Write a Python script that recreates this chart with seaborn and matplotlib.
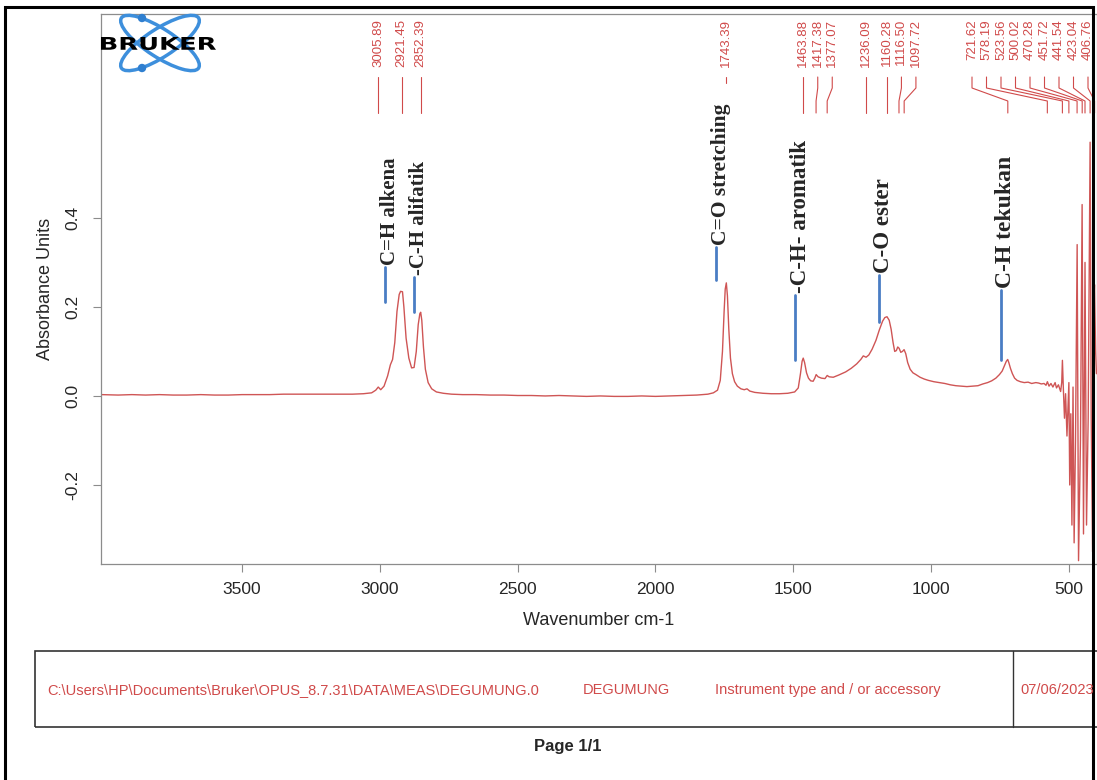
import numpy as np
import pandas as pd
import seaborn as sns
import matplotlib.pyplot as plt
from matplotlib.patches import Rectangle, Ellipse, Circle, PathPatch
from matplotlib.lines import Line2D
from matplotlib.textpath import TextPath
from matplotlib.font_manager import FontProperties
from matplotlib.transforms import Affine2D, blended_transform_factory, offset_copy

W, H = 1097, 780

# FTIR trace (cm-1, absorbance units)
wavenumber = [
    4010, 3950, 3900, 3850, 3800, 3750, 3700, 3650, 3600, 3550, 3500, 3450,
    3400, 3350, 3300, 3250, 3200, 3150, 3100, 3060, 3030, 3015, 3006, 2997,
    2985, 2972, 2962, 2954, 2946, 2938, 2930, 2925, 2918, 2913, 2905, 2895,
    2885, 2876, 2868, 2861, 2855, 2852, 2848, 2842, 2835, 2825, 2812, 2795,
    2770, 2740, 2700, 2650, 2600, 2550, 2500, 2450, 2400, 2350, 2300, 2250,
    2200, 2150, 2100, 2050, 2000, 1950, 1900, 1850, 1810, 1790, 1775, 1765,
    1757, 1751, 1747, 1743, 1739, 1734, 1728, 1721, 1713, 1703, 1690, 1678,
    1668, 1658, 1640, 1610, 1580, 1550, 1520, 1495, 1482, 1474, 1468, 1464,
    1459, 1452, 1445, 1437, 1428, 1422, 1417, 1410, 1398, 1385, 1377, 1370,
    1355, 1335, 1310, 1290, 1270, 1255, 1246, 1236, 1226, 1214, 1200, 1188,
    1176, 1168, 1160, 1152, 1145, 1138, 1132, 1126, 1121, 1116, 1110, 1104,
    1098, 1092, 1085, 1076, 1066, 1055, 1040, 1025, 1010, 990, 970, 950,
    930, 910, 890, 870, 850, 830, 812, 795, 780, 765, 752, 742,
    734, 727, 722, 718, 712, 705, 697, 688, 676, 662, 648, 635,
    620, 610, 600, 590, 583, 578, 572, 565, 558, 550, 545, 538,
    530, 526, 523.5, 520, 516, 512, 507, 503, 500, 497, 493, 489,
    485, 481, 476, 470, 465, 458, 452, 447, 441.5, 436, 430, 423,
    419, 414, 410, 407, 403, 400,
]
absorbance = [
    0.003, 0.002, 0.003, 0.002, 0.003, 0.002, 0.002, 0.003, 0.002, 0.002, 0.003, 0.003,
    0.003, 0.004, 0.004, 0.004, 0.004, 0.004, 0.004, 0.005, 0.007, 0.013, 0.020, 0.014,
    0.022, 0.045, 0.070, 0.082, 0.120, 0.190, 0.228, 0.235, 0.234, 0.200, 0.130, 0.085,
    0.063, 0.064, 0.100, 0.160, 0.185, 0.188, 0.170, 0.110, 0.060, 0.030, 0.016, 0.009,
    0.006, 0.004, 0.003, 0.003, 0.002, 0.002, 0.001, 0.001, 0.000, 0.001, 0.000, -0.001,
    0.000, -0.001, -0.001, 0.000, -0.001, 0.000, 0.001, 0.002, 0.004, 0.007, 0.013, 0.035,
    0.100, 0.190, 0.240, 0.254, 0.225, 0.150, 0.085, 0.050, 0.032, 0.022, 0.016, 0.014,
    0.016, 0.011, 0.008, 0.006, 0.005, 0.005, 0.006, 0.009, 0.018, 0.050, 0.078, 0.085,
    0.075, 0.052, 0.040, 0.034, 0.033, 0.040, 0.048, 0.043, 0.040, 0.039, 0.046, 0.043,
    0.042, 0.047, 0.054, 0.062, 0.072, 0.082, 0.090, 0.087, 0.092, 0.105, 0.125, 0.148,
    0.168, 0.176, 0.178, 0.170, 0.150, 0.120, 0.100, 0.102, 0.110, 0.107, 0.098, 0.100,
    0.104, 0.095, 0.075, 0.060, 0.052, 0.048, 0.042, 0.038, 0.035, 0.032, 0.030, 0.028,
    0.025, 0.023, 0.022, 0.021, 0.022, 0.023, 0.027, 0.030, 0.034, 0.040, 0.048, 0.056,
    0.068, 0.078, 0.082, 0.075, 0.062, 0.050, 0.040, 0.035, 0.032, 0.030, 0.031, 0.028,
    0.030, 0.029, 0.027, 0.028, 0.024, 0.032, 0.022, 0.028, 0.020, 0.030, 0.018, 0.025,
    0.010, 0.030, 0.080, 0.015, -0.050, 0.005, -0.090, -0.020, 0.030, -0.200, -0.040, -0.290,
    0.020, -0.330, -0.100, 0.340, -0.370, -0.100, 0.430, -0.310, 0.300, -0.290, -0.050, 0.570,
    -0.050, -0.350, 0.200, 0.250, 0.100, 0.050,
]

# picked peaks printed along the top
peak_wn = [3005.89, 2921.45, 2852.39, 1743.39, 1463.88, 1417.38, 1377.07,
           1236.09, 1160.28, 1116.50, 1097.72, 721.62, 578.19, 523.56,
           500.02, 470.28, 451.72, 441.54, 423.04, 406.76]

# hand-written band assignments
band_labels = ['C=H alkena', '-C-H alifatik', 'C=O stretching',
               '-C-H- aromatik', 'C-O ester', 'C-H tekukan']
band_wn = [2981, 2876, 1779, 1492, 1190, 747]

footer_texts = [r'C:\Users\HP\Documents\Bruker\OPUS_8.7.31\DATA\MEAS\DEGUMUNG.0',
                'DEGUMUNG', 'Instrument type and / or accessory', '07/06/2023']

# layout (pixels of the 1097x780 page)
band_line_y = [(0.211, 0.290), (0.189, 0.267), (0.261, 0.335),
               (0.081, 0.227), (0.166, 0.272), (0.081, 0.238)]
band_fs = [15, 15, 15.5, 16.5, 16.5, 17]
footer_x = [47, 583, 715, 1020]

RED = '#d04a4a'
LINE_RED = '#cf5555'
BLUE = '#4a7dc4'
GREY = '#8c8c8c'


def fx(px):
    return px / W


def fy(py):
    return 1 - py / H


sns.set_style('white')
plt.rcParams['font.family'] = ['Liberation Sans', 'DejaVu Sans']

fig = plt.figure(figsize=(W / 100, H / 100), dpi=100)
ax_top, ax_bot, ax_left, ax_right = 14, 564, 101, 1097
ax = fig.add_axes([fx(ax_left), fy(ax_bot), fx(ax_right - ax_left),
                   (ax_bot - ax_top) / H])

df = pd.DataFrame({'wavenumber': wavenumber, 'absorbance': absorbance})
sns.lineplot(data=df, x='wavenumber', y='absorbance', ax=ax, color=LINE_RED,
             linewidth=1.0, sort=False, estimator=None)
ax.set_xlim(4012, 398)
ax.set_ylim(-0.3775, 0.858)

for s in ax.spines.values():
    s.set_color(GREY)
    s.set_linewidth(0.9)
ax.set_xticks([3500, 3000, 2500, 2000, 1500, 1000, 500])
ax.set_yticks([-0.2, 0.0, 0.2, 0.4])
ax.set_yticklabels([f'{v:.1f}' for v in [-0.2, 0.0, 0.2, 0.4]])
ax.tick_params(direction='out', length=6, width=0.8, color=GREY,
               labelsize=12.5, bottom=True, left=True)
ax.tick_params(axis='x', pad=7)
ax.tick_params(axis='y', pad=9, labelrotation=90)
plt.setp(ax.get_yticklabels(), va='center')
ax.set_xlabel('Wavenumber cm-1', fontsize=13, labelpad=11)
ax.set_ylabel('Absorbance Units', fontsize=13, labelpad=8)

# peak labels with leader lines, spread so they don't collide
frac = lambda py: (ax_bot - py) / (ax_bot - ax_top)
blend = blended_transform_factory(ax.transData, ax.transAxes)
xs = [ax.transData.transform((w, 0))[0] for w in peak_wn]
gap = 14.5
lab = list(xs)
for i in range(1, len(lab)):
    lab[i] = max(xs[i], lab[i - 1] + gap)
lab[-1] = min(lab[-1], 1088)
for i in range(len(lab) - 2, -1, -1):
    lab[i] = min(lab[i], lab[i + 1] - gap)
inv = ax.transData.inverted()
for w, lx in zip(peak_wn, lab):
    lw_ = inv.transform((lx, 0))[0]
    ax.text(lw_, frac(19), f'{w:.2f}', rotation=90, ha='center', va='top',
            fontsize=9.5, color=RED, transform=blend)
    if w == 1743.39:
        xsL, ysL = [lw_, lw_], [frac(77), frac(83)]
    else:
        xsL = [lw_, lw_, w, w]
        ysL = [frac(77), frac(88), frac(101), frac(113)]
    ax.plot(xsL, ysL, color=RED, lw=0.8, transform=blend)

# band assignments
txt_off = offset_copy(ax.transData, fig=fig, x=5, y=0, units='dots')
for lbl, w, (y0, y1), fs in zip(band_labels, band_wn, band_line_y, band_fs):
    ax.plot([w, w], [y0, y1], color=BLUE, lw=2)
    ax.text(w, y1 + 0.004, lbl, rotation=90, ha='center', va='bottom',
            fontsize=fs, fontweight='bold', family=['Liberation Serif'],
            transform=txt_off)

# Bruker logo
lg = fig.add_axes([fx(95), fy(80), fx(130), 72 / H])
lg.set_xlim(95, 225)
lg.set_ylim(80, 8)
lg.axis('off')
for ang in (33, -33):
    lg.add_patch(Ellipse((160, 43), 92, 28, angle=ang, fill=False,
                         ec='#3d8fdc', lw=2.5))
for cy in (18, 68):
    lg.add_patch(Circle((142, cy), 3.5, color='#2f7fd0'))
tp = TextPath((0, 0), 'BRUKER', size=10,
              prop=FontProperties(family='DejaVu Sans', weight='bold'))
bb = tp.get_extents()
tr = Affine2D().translate(-bb.x0, -bb.y0).scale(115 / bb.width, -13 / bb.height)
tr = tr.translate(101, 50)
lg.add_patch(PathPatch(tr.transform_path(tp), fc='black', ec='none'))

# footer box
fig.add_artist(Rectangle((fx(35), fy(727)), fx(1120 - 35), (727 - 651) / H,
                         transform=fig.transFigure, fill=False, ec='#333333',
                         lw=1.2))
fig.add_artist(Line2D([fx(1013), fx(1013)], [fy(651), fy(727)],
                      transform=fig.transFigure, color='#333333', lw=1.0))
for t, x in zip(footer_texts, footer_x):
    fig.text(fx(x), fy(690), t, ha='left', va='center', fontsize=10.5,
             color=RED)
fig.text(fx(568), fy(746), 'Page 1/1', ha='center', va='center',
         fontsize=12, fontweight='bold')

# page border
fig.add_artist(Rectangle((fx(5), fy(820)), fx(1093 - 5), (820 - 7) / H,
                         transform=fig.transFigure, fill=False, ec='black',
                         lw=2.2))

fig.savefig('out.png', dpi=100)
